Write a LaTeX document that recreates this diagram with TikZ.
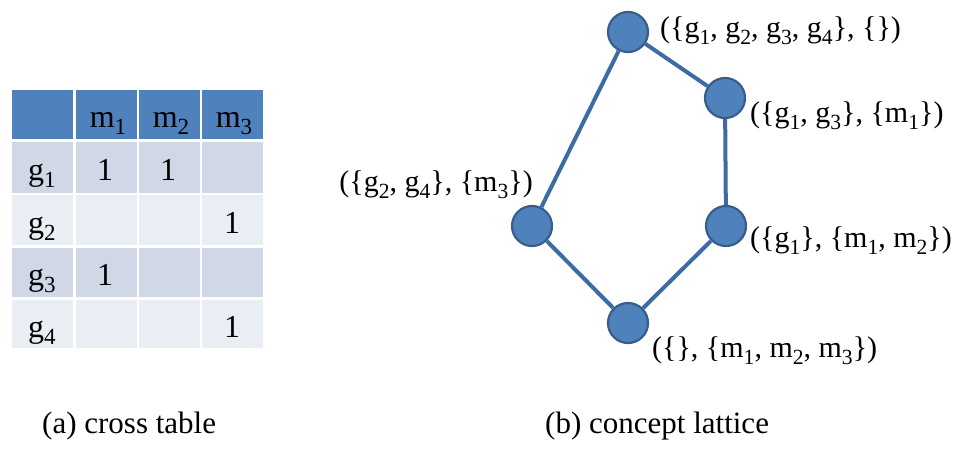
\documentclass[tikz,border=0pt]{standalone}
\usepackage{graphicx}
\usepackage{fontspec}
\setmainfont{Liberation Serif}
\definecolor{hdrblue}{HTML}{4F81BD}
\definecolor{bandA}{HTML}{D0D8E8}
\definecolor{bandB}{HTML}{E9EDF4}
\definecolor{nodefill}{HTML}{4F81BD}
\definecolor{nodeedge}{HTML}{385D8A}
\definecolor{edgeblue}{HTML}{3D6BA6}
\newcommand\lo[1]{\raisebox{-0.24em}{\scalebox{0.72}{#1}}}
\begin{document}
\begin{tikzpicture}[x=1pt,y=-1pt,
  cellbox/.style={rectangle, inner sep=0pt, outer sep=0pt, draw=none, minimum width=61pt},
  celltext/.style={anchor=base, inner sep=0pt, font=\fontsize{32}{34}\selectfont},
  concept/.style={circle, fill=nodefill, draw=nodeedge, line width=2.2pt, minimum size=40pt, inner sep=0pt},
  link/.style={draw=edgeblue, line width=4pt},
  lab/.style={inner sep=0pt, font=\fontsize{30}{32}\selectfont},
  capt/.style={inner sep=0pt, font=\fontsize{31}{33}\selectfont}]
\useasboundingbox (0,0) rectangle (975,450);
% ---- table backgrounds ----
\foreach \x [count=\c] in {42.5,106,169.5,232.5}{
  \node[cellbox, fill=hdrblue, minimum height=49pt] (h\c) at (\x,114.5) {};
  \node[cellbox, fill=bandA, minimum height=51pt] (ra\c) at (\x,167.5) {};
  \node[cellbox, fill=bandB, minimum height=50pt] (rb\c) at (\x,220) {};
  \node[cellbox, fill=bandA, minimum height=49pt] (rc\c) at (\x,272.5) {};
  \node[cellbox, fill=bandB, minimum height=48pt] (rd\c) at (\x,324) {};
}
% ---- table texts ----
\node[celltext] (tm1) at (108,127) {m\lo{1}};
\node[celltext] (tm2) at (171,127) {m\lo{2}};
\node[celltext] (tm3) at (234,127) {m\lo{3}};
\node[celltext] (tg1) at (42,180) {g\lo{1}};
\node[celltext] (tg2) at (42,233) {g\lo{2}};
\node[celltext] (tg3) at (42,285) {g\lo{3}};
\node[celltext] (tg4) at (42,337) {g\lo{4}};
\node[celltext] (x11) at (105,180) {1};
\node[celltext] (x12) at (168,180) {1};
\node[celltext] (x23) at (232,233) {1};
\node[celltext] (x31) at (105,285) {1};
\node[celltext] (x43) at (232,337) {1};
% ---- lattice ----
\node[concept] (top) at (628,32) {};
\node[concept] (g13) at (725,98) {};
\node[concept] (g24) at (532,226) {};
\node[concept] (g1) at (726,226) {};
\node[concept] (bot) at (628,323) {};
\draw[link] (top) -- (g13);
\draw[link] (top) -- (g24);
\draw[link] (g13) -- (g1);
\draw[link] (g24) -- (bot);
\draw[link] (g1) -- (bot);
\node[lab, anchor=base west] (ltop) at (660,37) {(\{g\lo{1}, g\lo{2}, g\lo{3}, g\lo{4}\}, \{\})};
\node[lab, anchor=base west] (lg13) at (750,122) {(\{g\lo{1}, g\lo{3}\}, \{m\lo{1}\})};
\node[lab, anchor=base east] (lg24) at (533,191) {(\{g\lo{2}, g\lo{4}\}, \{m\lo{3}\})};
\node[lab, anchor=base west] (lg1) at (750,247) {(\{g\lo{1}\}, \{m\lo{1}, m\lo{2}\})};
\node[lab, anchor=base west] (lbot) at (652,357) {(\{\}, \{m\lo{1}, m\lo{2}, m\lo{3}\})};
% ---- captions ----
\node[capt, anchor=base west] (capa) at (42,433) {(a) cross table};
\node[capt, anchor=base west] (capb) at (545,433) {(b) concept lattice};
\end{tikzpicture}
\end{document}
